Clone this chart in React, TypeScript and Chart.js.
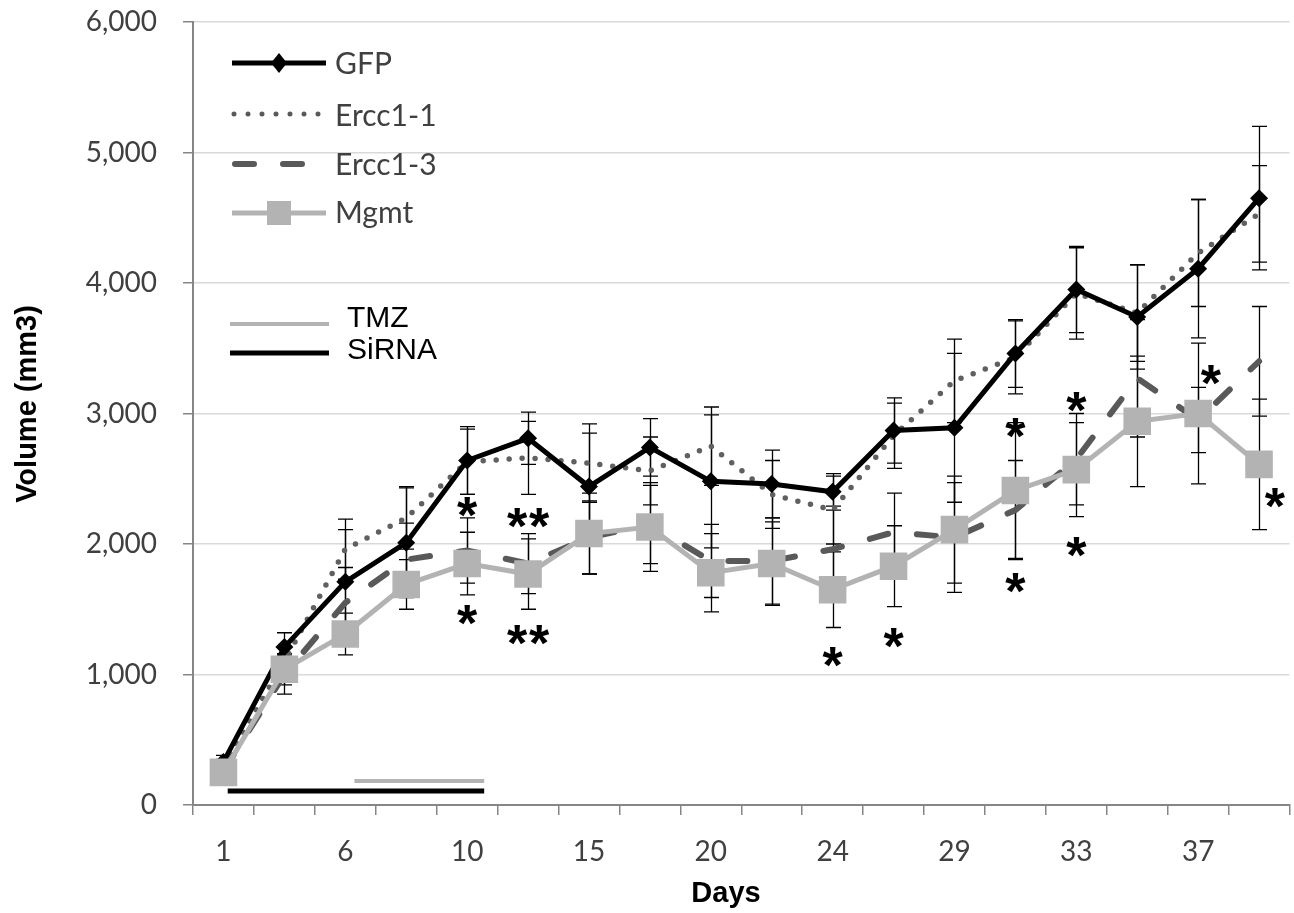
import React, { useEffect, useRef } from 'react';
import { Chart, registerables } from 'chart.js';

Chart.register(...registerables);

// ---- Data ----
const days = ['1', '3', '6', '8', '10', '13', '15', '17', '20', '22', '24', '27', '29', '31', '33', '35', '37', '39'];
const tickLabels = ['1', '', '6', '', '10', '', '15', '', '20', '', '24', '', '29', '', '33', '', '37', ''];

const gfp = [330, 1210, 1710, 2010, 2640, 2810, 2440, 2740, 2480, 2460, 2400, 2870, 2890, 3460, 3950, 3740, 4110, 4650];
const gfpErr = [50, 110, 400, 420, 260, 200, 410, 220, 510, 260, 140, 250, 570, 260, 330, 400, 530, 550];

const ercc11 = [300, 1100, 1960, 2200, 2630, 2660, 2620, 2560, 2750, 2380, 2260, 2830, 3250, 3430, 3920, 3770, 4230, 4530];
const ercc11Err = [50, 120, 230, 240, 250, 280, 300, 260, 300, 260, 260, 250, 320, 280, 350, 370, 410, 370];

const ercc13 = [260, 1000, 1550, 1880, 1950, 1850, 2050, 2150, 1870, 1870, 1960, 2090, 2050, 2260, 2650, 3270, 2950, 3400];
const ercc13Err = [50, 150, 270, 280, 250, 230, 280, 300, 280, 330, 330, 300, 420, 380, 350, 450, 250, 420];

const mgmt = [250, 1040, 1310, 1690, 1850, 1770, 2080, 2130, 1780, 1850, 1650, 1830, 2110, 2410, 2570, 2940, 3000, 2610];
const mgmtErr = [50, 120, 160, 190, 240, 270, 310, 340, 300, 320, 290, 310, 410, 520, 360, 500, 540, 500];

// treatment periods (x in category index units, y in volume units)
const sirnaX = [0.07, 4.28];
const sirnaY = [107, 107];
const tmzX = [2.15, 4.28];
const tmzY = [184, 184];

// significance marks
const starX = [4, 4, 5, 5, 10, 11, 13, 13, 14, 14, 16.21, 17.26];
const starY = [2284, 1456, 2199, 1303, 1134, 1280, 2889, 1701, 3088, 1977, 3295, 2352];
const starText = ['*', '*', '**', '**', '*', '*', '*', '*', '*', '*', '*', '*'];

const yTicks = [0, 1000, 2000, 3000, 4000, 5000, 6000];

const xTitle = 'Days';
const yTitle = 'Volume (mm3)';

const errorSeries = [
  { values: gfp, errors: gfpErr },
  { values: ercc11, errors: ercc11Err },
  { values: ercc13, errors: ercc13Err },
  { values: mgmt, errors: mgmtErr },
];

const fmt = (v: number) => String(v).replace(/\B(?=(\d{3})+(?!\d))/g, ',');

const errorBarPlugin = {
  id: 'errorBars',
  beforeDatasetsDraw(chart: any) {
    const { ctx, scales } = chart;
    const x = scales.x;
    const y = scales.y;
    ctx.save();
    ctx.strokeStyle = '#000';
    ctx.lineWidth = 1.3;
    errorSeries.forEach((s) => {
      s.values.forEach((v, i) => {
        const px = Math.round(x.getPixelForValue(i)) + 0.5;
        const top = y.getPixelForValue(v + s.errors[i]);
        const bot = y.getPixelForValue(v - s.errors[i]);
        ctx.beginPath();
        ctx.moveTo(px, top);
        ctx.lineTo(px, bot);
        ctx.moveTo(px - 7.5, top);
        ctx.lineTo(px + 7.5, top);
        ctx.moveTo(px - 7.5, bot);
        ctx.lineTo(px + 7.5, bot);
        ctx.stroke();
      });
    });
    ctx.restore();
  },
};

const starPlugin = {
  id: 'stars',
  afterDatasetsDraw(chart: any) {
    const { ctx, scales } = chart;
    const x2 = scales.x2;
    const y = scales.y;
    ctx.save();
    ctx.fillStyle = '#000';
    ctx.font = 'bold 52px "Liberation Sans", Arial, sans-serif';
    ctx.textAlign = 'center';
    ctx.textBaseline = 'alphabetic';
    const m = ctx.measureText('*');
    const asc = m.actualBoundingBoxAscent;
    const desc = m.actualBoundingBoxDescent;
    starX.forEach((sx, i) => {
      const px = x2.getPixelForValue(sx);
      const cy = y.getPixelForValue(starY[i]);
      const base = cy + (asc - desc) / 2;
      if (starText[i] === '**') {
        ctx.fillText('*', px - 11, base);
        ctx.fillText('*', px + 11, base);
      } else {
        ctx.fillText('*', px, base);
      }
    });
    ctx.restore();
  },
};

const legendPlugin = {
  id: 'customLegend',
  afterDraw(chart: any) {
    const { ctx } = chart;
    ctx.save();
    ctx.lineCap = 'butt';
    // GFP
    ctx.strokeStyle = '#000';
    ctx.lineWidth = 5;
    ctx.beginPath();
    ctx.moveTo(232, 63);
    ctx.lineTo(326, 63);
    ctx.stroke();
    ctx.fillStyle = '#000';
    ctx.beginPath();
    ctx.moveTo(279, 53);
    ctx.lineTo(287, 63);
    ctx.lineTo(279, 73);
    ctx.lineTo(271, 63);
    ctx.closePath();
    ctx.fill();
    // Ercc1-1
    ctx.strokeStyle = '#595959';
    ctx.lineWidth = 5;
    ctx.lineCap = 'round';
    ctx.setLineDash([0, 14]);
    ctx.beginPath();
    ctx.moveTo(234, 114);
    ctx.lineTo(320, 114);
    ctx.stroke();
    // Ercc1-3
    ctx.lineWidth = 6;
    ctx.setLineDash([19, 29]);
    ctx.beginPath();
    ctx.moveTo(235, 164);
    ctx.lineTo(306, 164);
    ctx.stroke();
    ctx.setLineDash([]);
    ctx.lineCap = 'butt';
    // Mgmt
    ctx.strokeStyle = '#b3b3b3';
    ctx.lineWidth = 5;
    ctx.beginPath();
    ctx.moveTo(232, 213);
    ctx.lineTo(326, 213);
    ctx.stroke();
    ctx.fillStyle = '#b3b3b3';
    ctx.fillRect(267, 201, 24, 24);
    // TMZ / SiRNA
    ctx.strokeStyle = '#b3b3b3';
    ctx.lineWidth = 4;
    ctx.beginPath();
    ctx.moveTo(230, 324);
    ctx.lineTo(329, 324);
    ctx.stroke();
    ctx.strokeStyle = '#000';
    ctx.lineWidth = 5;
    ctx.beginPath();
    ctx.moveTo(230, 353);
    ctx.lineTo(329, 353);
    ctx.stroke();

    ctx.textBaseline = 'middle';
    ctx.textAlign = 'left';
    ctx.fillStyle = '#404040';
    ctx.font = '30px Lato, sans-serif';
    ctx.fillText('GFP', 335, 64);
    ctx.fillText('Ercc1-1', 335, 116);
    ctx.fillText('Ercc1-3', 335, 165);
    ctx.fillText('Mgmt', 335, 213);
    ctx.fillStyle = '#000';
    ctx.font = '30px "Liberation Sans", Arial, sans-serif';
    ctx.fillText('TMZ', 347, 319);
    ctx.fillText('SiRNA', 347, 351);

    // axis titles
    ctx.font = 'bold 29px "Liberation Sans", Arial, sans-serif';
    ctx.textAlign = 'center';
    ctx.fillText(xTitle, 726, 894);
    ctx.translate(28, 404);
    ctx.rotate(-Math.PI / 2);
    ctx.fillText(yTitle, 0, 0);
    ctx.restore();
  },
};

const CANVAS_W = 1309;

export default function App() {
  const ref = useRef<HTMLCanvasElement | null>(null);

  useEffect(() => {
    if (!ref.current) return;
    const chart = new Chart(ref.current, {
      type: 'line',
      data: {
        labels: days,
        datasets: [
          {
            label: 'Mgmt',
            data: mgmt,
            borderColor: '#b3b3b3',
            backgroundColor: '#b3b3b3',
            borderWidth: 5,
            pointStyle: 'rect',
            pointRadius: 19.5,
            pointBorderWidth: 0,
            pointBackgroundColor: '#b3b3b3',
            tension: 0,
            order: 1,
          },
          {
            label: 'Ercc1-3',
            data: ercc13,
            borderColor: '#595959',
            borderWidth: 6,
            borderDash: [19, 29],
            borderCapStyle: 'round',
            pointRadius: 0,
            tension: 0,
            order: 2,
          },
          {
            label: 'GFP',
            data: gfp,
            borderColor: '#000',
            backgroundColor: '#000',
            borderWidth: 5,
            pointStyle: 'rectRot',
            pointRadius: 9,
            pointBorderWidth: 0,
            pointBackgroundColor: '#000',
            tension: 0,
            order: 3,
          },
          {
            label: 'Ercc1-1',
            data: ercc11,
            borderColor: '#606060',
            borderWidth: 5.5,
            borderDash: [0, 13],
            borderCapStyle: 'round',
            pointRadius: 0,
            tension: 0,
            order: 4,
          },
          {
            label: 'TMZ',
            xAxisID: 'x2',
            data: tmzX.map((v, i) => ({ x: v, y: tmzY[i] })),
            borderColor: '#b3b3b3',
            borderWidth: 4,
            pointRadius: 0,
            order: 9,
          },
          {
            label: 'SiRNA',
            xAxisID: 'x2',
            data: sirnaX.map((v, i) => ({ x: v, y: sirnaY[i] })),
            borderColor: '#000',
            borderWidth: 5,
            pointRadius: 0,
            order: 10,
          },
        ] as any,
      },
      options: {
        responsive: false,
        animation: false,
        devicePixelRatio: 1,
        layout: { padding: { top: 22, right: 4, left: 0, bottom: 0 } },
        plugins: { legend: { display: false }, tooltip: { enabled: false } },
        scales: {
          x: {
            type: 'category',
            offset: true,
            grid: {
              display: true,
              drawOnChartArea: false,
              drawTicks: true,
              tickLength: 10,
              tickColor: '#868686',
              offset: true,
              lineWidth: 1.5,
            },
            border: { display: true, color: '#868686', width: 2 },
            ticks: {
              autoSkip: false,
              maxRotation: 0,
              minRotation: 0,
              padding: 20,
              color: '#404040',
              font: { family: 'Lato', size: 28 },
              callback: (_v: any, i: number) => tickLabels[i],
            },
            title: { display: false },
            afterFit: (s: any) => {
              s.height = 108;
              s.paddingLeft = 0;
              s.paddingRight = 0;
            },
          },
          x2: { type: 'linear', display: false, min: -0.5, max: 17.5 },
          y: {
            type: 'linear',
            min: 0,
            max: 6000,
            afterBuildTicks: (s: any) => {
              s.ticks = yTicks.map((v) => ({ value: v }));
            },
            ticks: {
              padding: 26,
              color: '#404040',
              font: { family: 'Lato', size: 28 },
              callback: (v: any) => fmt(Number(v)),
            },
            grid: { color: '#d9d9d9', lineWidth: 1.5, tickLength: 10, tickColor: '#868686' },
            border: { color: '#868686', width: 2 },
            title: { display: false },
            afterFit: (s: any) => {
              s.width = 193;
              s.paddingTop = 0;
              s.paddingBottom = 0;
            },
          },
        },
      } as any,
      plugins: [errorBarPlugin, starPlugin, legendPlugin],
    });
    return () => chart.destroy();
  }, []);

  return (
    <div style={{ position: 'fixed', left: 0, top: 0, width: 1294, height: 913, overflow: 'hidden', background: '#fff' }}>
      <canvas ref={ref} width={CANVAS_W} height={913} style={{ display: 'block', width: CANVAS_W, height: 913 }} />
    </div>
  );
}
